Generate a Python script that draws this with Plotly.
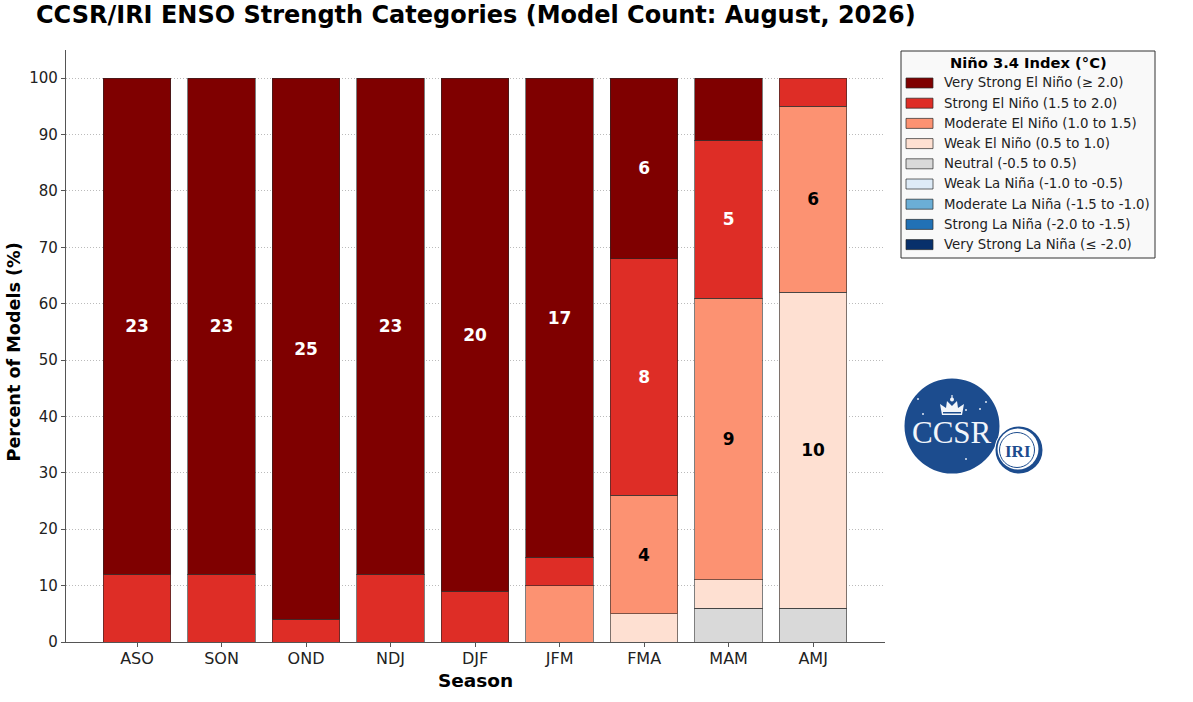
import plotly.graph_objects as go

seasons = ["ASO", "SON", "OND", "NDJ", "DJF", "JFM", "FMA", "MAM", "AMJ"]

# percent of models per category
very_strong_el = [88, 88, 96, 88, 91, 85, 32, 11, 0]
strong_el = [12, 12, 4, 12, 9, 5, 42, 28, 5]
moderate_el = [0, 0, 0, 0, 0, 10, 21, 50, 33]
weak_el = [0, 0, 0, 0, 0, 0, 5, 5, 56]
neutral = [0, 0, 0, 0, 0, 0, 0, 6, 6]
weak_la = [0, 0, 0, 0, 0, 0, 0, 0, 0]
moderate_la = [0, 0, 0, 0, 0, 0, 0, 0, 0]
strong_la = [0, 0, 0, 0, 0, 0, 0, 0, 0]
very_strong_la = [0, 0, 0, 0, 0, 0, 0, 0, 0]

# model counts printed inside the bars (small ones are left unlabelled)
very_strong_el_labels = ["23", "23", "25", "23", "20", "17", "6", "", ""]
strong_el_labels = ["", "", "", "", "", "", "8", "5", ""]
moderate_el_labels = ["", "", "", "", "", "", "4", "9", "6"]
weak_el_labels = ["", "", "", "", "", "", "", "", "10"]
no_labels = [""] * 9

category_names = [
    "Very Strong El Niño (≥ 2.0)",
    "Strong El Niño (1.5 to 2.0)",
    "Moderate El Niño (1.0 to 1.5)",
    "Weak El Niño (0.5 to 1.0)",
    "Neutral (-0.5 to 0.5)",
    "Weak La Niña (-1.0 to -0.5)",
    "Moderate La Niña (-1.5 to -1.0)",
    "Strong La Niña (-2.0 to -1.5)",
    "Very Strong La Niña (≤ -2.0)",
]
category_colors = ["#7f0000", "#de2d26", "#fc9272", "#fee0d2", "#d9d9d9",
                   "#deebf7", "#6baed6", "#2171b5", "#08306b"]
label_colors = ["white", "white", "black", "black", "black",
                "black", "black", "white", "white"]
category_values = [very_strong_el, strong_el, moderate_el, weak_el, neutral,
                   weak_la, moderate_la, strong_la, very_strong_la]
category_labels = [very_strong_el_labels, strong_el_labels, moderate_el_labels,
                   weak_el_labels, no_labels, no_labels, no_labels, no_labels, no_labels]

W, H = 1193, 702
L, R, T, B = 66, 885, 50, 642
FONT = "DejaVu Sans"
EDGE = "rgba(40,40,40,0.6)"
AXIS = "#555555"


def px(x):
    return (x - L) / (R - L)


def py(y):
    return (B - y) / (B - T)


fig = go.Figure()

# stacked from the bottom: La Nina first, Very Strong El Nino last
for name, color, tcolor, values, labels in reversed(
        list(zip(category_names, category_colors, label_colors, category_values, category_labels))):
    fig.add_trace(go.Bar(
        x=seasons, y=[v if v else None for v in values], name=name,
        text=[f"<b>{t}</b>" if t else "" for t in labels],
        textposition="inside", insidetextanchor="middle", textangle=0,
        constraintext="none",
        textfont=dict(family=FONT, size=17, color=tcolor),
        marker=dict(color=color, line=dict(color=EDGE, width=1)),
        width=0.8, showlegend=False,
    ))

shapes = []
annotations = []


def box(x0, y0, x1, y1, fill, line="rgba(0,0,0,0)", width=0):
    shapes.append(dict(type="rect", xref="paper", yref="paper",
                       x0=px(x0), y0=py(y0), x1=px(x1), y1=py(y1),
                       fillcolor=fill, line=dict(color=line, width=width)))


def circle(cx, cy, r, fill, line="rgba(0,0,0,0)", width=0):
    shapes.append(dict(type="circle", xref="paper", yref="paper",
                       x0=px(cx - r), y0=py(cy - r), x1=px(cx + r), y1=py(cy + r),
                       fillcolor=fill, line=dict(color=line, width=width)))


def label(x, y, text, size, color="#222222", family=FONT, anchor="left", angle=0):
    annotations.append(dict(xref="paper", yref="paper", x=px(x), y=py(y), text=text,
                            showarrow=False, xanchor=anchor, yanchor="middle", textangle=angle,
                            font=dict(family=family, size=size, color=color)))


# legend box drawn by hand, plotly's own bar swatches are fixed little squares
box(901, 51, 1155, 258, "#f9f9f9", "#333333", 1)
label(1028, 62, "<b>Niño 3.4 Index (°C)</b>", 14.7, "black", anchor="center")
for i, (name, color) in enumerate(zip(category_names, category_colors)):
    y = 83 + i * 20.2
    box(906, y - 5, 933, y + 5, color, "rgba(40,40,40,0.7)", 1)
    label(941.5, y, name, 13.3)

# y axis title as annotation, it sits a bit below the centre of the axis
label(13, 352.5, "<b>Percent of Models (%)</b>", 17.6, "black", anchor="center", angle=-90)

# logo
BLUE = "#1c4c8e"
LOGO_WHITE = "#f2f5fa"
circle(952, 426, 47.5, BLUE)
circle(1019, 450, 24.5, "white")
circle(1019, 450, 23.5, BLUE)
circle(1018, 449, 20.5, "white")
circle(1017, 450, 17.5, "white", BLUE, 1)
label(952, 432, "CCSR", 31, LOGO_WHITE, "Liberation Serif", "center")
label(1018, 451, "<b>IRI</b>", 17, BLUE, "Liberation Serif", "center")
crown = [(942, 415), (940, 404), (946, 408), (947, 401), (952, 406), (957, 401),
         (958, 408), (964, 404), (962, 415)]
shapes.append(dict(type="path", xref="paper", yref="paper",
                   path="M" + " L".join(f"{px(a):.5f},{py(b):.5f}" for a, b in crown) + " Z",
                   fillcolor=LOGO_WHITE, line=dict(width=0)))
box(943, 412, 961, 413.5, BLUE)
circle(952, 399.5, 2, LOGO_WHITE)
box(951.4, 395, 952.6, 401, LOGO_WHITE)
for sx, sy in [(918, 399), (923, 414), (966, 459), (980, 409), (986, 402), (966, 410)]:
    circle(sx, sy, 1, "#dfe7f3")

fig.update_layout(
    barmode="stack",
    width=W, height=H,
    margin=dict(l=L, r=W - R, t=T, b=H - B, autoexpand=False),
    paper_bgcolor="white", plot_bgcolor="white",
    font=dict(family=FONT, color="#222222"),
    title=dict(text="<b>CCSR/IRI ENSO Strength Categories (Model Count: August, 2026)</b>",
               x=36 / W, xanchor="left", y=1 - 15 / H, yanchor="middle",
               font=dict(family=FONT, size=24, color="black")),
    shapes=shapes, annotations=annotations,
)
fig.update_xaxes(
    range=[-0.84, 8.85], showgrid=False, showline=True, linecolor=AXIS, linewidth=1.3,
    ticks="outside", ticklen=4, tickcolor=AXIS, tickfont=dict(size=16), ticklabelstandoff=-2,
    title=dict(text="<b>Season</b>", font=dict(size=18.5, color="black"), standoff=6),
)
fig.update_yaxes(
    range=[0, 105], tick0=0, dtick=10, showgrid=True,
    gridcolor="#bbbbbb", griddash="1px,2px", gridwidth=1, zeroline=False,
    showline=True, linecolor=AXIS, linewidth=1.3,
    ticks="outside", ticklen=4, tickcolor=AXIS, tickfont=dict(size=15),
)

# the page's default body margin would push the figure 8px off
fig.write_html("out.html", config={"displayModeBar": False},
               post_script="document.body.style.margin='0';")
